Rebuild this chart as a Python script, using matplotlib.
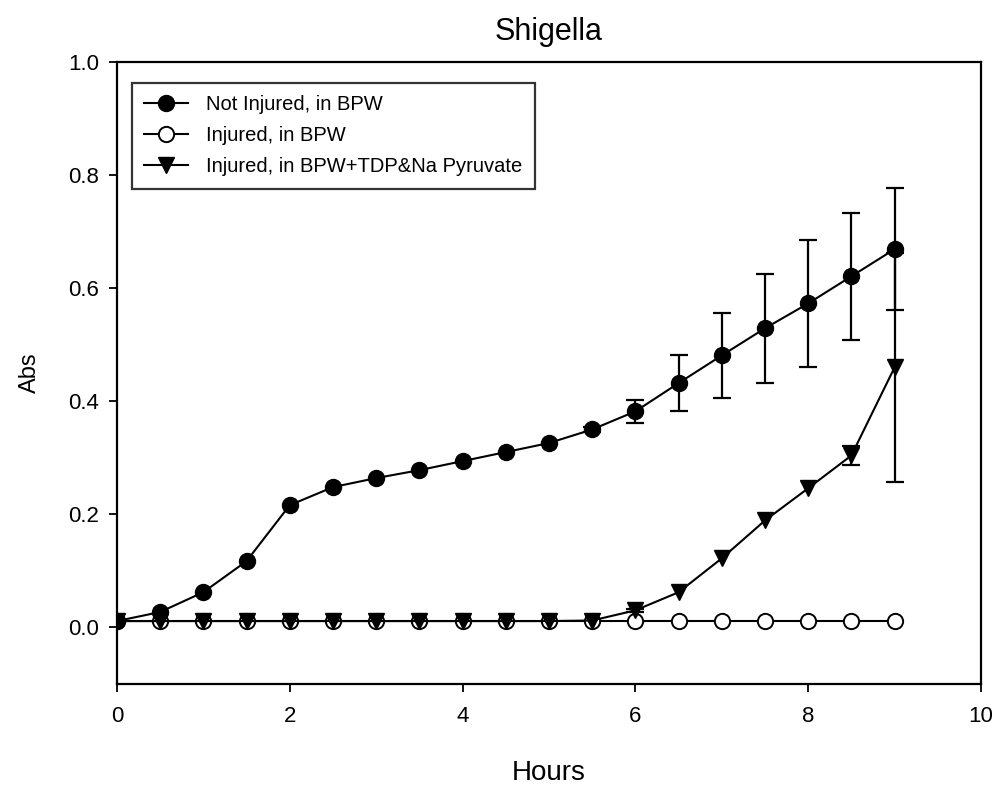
import matplotlib.pyplot as plt
import numpy as np

plt.rcParams['font.family'] = ['Liberation Sans', 'DejaVu Sans']

hours = np.arange(0, 9.01, 0.5)

# Not injured, in BPW
not_inj = [0.011, 0.027, 0.062, 0.117, 0.216, 0.248, 0.264, 0.278, 0.294, 0.310,
           0.326, 0.350, 0.382, 0.432, 0.481, 0.529, 0.573, 0.621, 0.669]
not_inj_err = [0, 0, 0, 0, 0, 0, 0, 0, 0, 0,
               0, 0.004, 0.020, 0.050, 0.075, 0.096, 0.112, 0.112, 0.108]

# Injured, in BPW
inj = [0.011] * 19
inj_err = [0] * 19

# Injured, in BPW+TDP&Na Pyruvate
inj_tdp = [0.011, 0.011, 0.011, 0.011, 0.011, 0.011, 0.011, 0.011, 0.011, 0.011,
           0.011, 0.012, 0.030, 0.062, 0.122, 0.189, 0.246, 0.304, 0.460]
inj_tdp_err = [0, 0, 0, 0, 0, 0, 0, 0, 0, 0,
               0, 0, 0.003, 0, 0, 0, 0, 0.017, 0.203]

fig = plt.figure(figsize=(9.99, 7.86), dpi=100)
ax = fig.add_axes([0.117, 0.130, 0.865, 0.791])


def draw(y, err, z, **mk):
    y = np.asarray(y); err = np.asarray(err)
    m = err > 0.002
    if m.any():
        ax.errorbar(hours[m], y[m], yerr=err[m], fmt='none', ecolor='black',
                    elinewidth=1.6, capsize=6.5, capthick=1.6, zorder=z)
    line, = ax.plot(hours, y, color='black', linewidth=1.5, zorder=z + 0.5, **mk)
    return line


h_inj = draw(inj, inj_err, 2, marker='o', markersize=11, markerfacecolor='white',
             markeredgecolor='black', markeredgewidth=1.4)
h_tdp = draw(inj_tdp, inj_tdp_err, 3, marker='v', markersize=11,
             markerfacecolor='black', markeredgecolor='black')
h_not = draw(not_inj, not_inj_err, 4, marker='o', markersize=11.5,
             markerfacecolor='black', markeredgecolor='black')

ax.set_xlim(0, 10)
ax.set_ylim(-0.1, 1.0)
ax.set_xticks([0, 2, 4, 6, 8, 10])
ax.set_yticks([0.0, 0.2, 0.4, 0.6, 0.8, 1.0])
ax.set_yticklabels(['0.0', '0.2', '0.4', '0.6', '0.8', '1.0'])
ax.tick_params(direction='out', length=6, width=1.3, labelsize=16)
ax.tick_params(axis='x', pad=10)
ax.tick_params(axis='y', pad=7)
for s in ax.spines.values():
    s.set_linewidth(1.6)

ax.set_xlabel('Hours', fontsize=20, labelpad=24)
ax.set_ylabel('Abs', fontsize=17, labelpad=19)
ax.set_title('Shigella', fontsize=22, pad=16)

leg = ax.legend([h_not, h_inj, h_tdp],
                ['Not Injured, in BPW', 'Injured, in BPW', 'Injured, in BPW+TDP&Na Pyruvate'],
                loc='upper left', bbox_to_anchor=(0.0174, 0.966), borderaxespad=0,
                fontsize=14.5, frameon=True, fancybox=False, edgecolor='black',
                handlelength=2.2, labelspacing=0.6, borderpad=0.6, handletextpad=0.9)
leg.get_frame().set_linewidth(1.6)

fig.savefig('out.png', dpi=100)
